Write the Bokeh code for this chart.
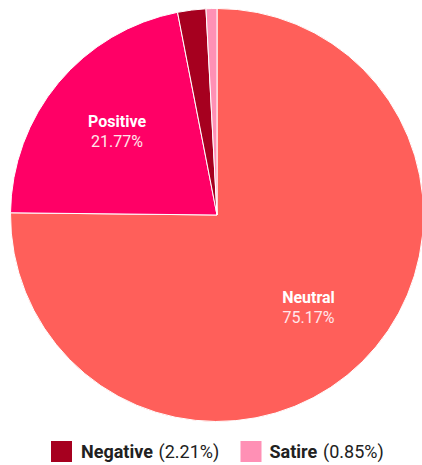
import numpy as np
from bokeh.plotting import figure
from bokeh.models import Range1d, ColumnDataSource
from bokeh.core.properties import value
from bokeh.embed import file_html
from bokeh.resources import INLINE

categories = ["Neutral", "Positive", "Negative", "Satire"]
shares = [75.17, 21.77, 2.21, 0.85]
colors = ["#FF5F5A", "#FF0066", "#A6001F", "#FF90B5"]
label_cats = ["Neutral", "Positive"]
legend_cats = ["Negative", "Satire"]

W, H = 422, 465
p = figure(width=W, height=H, output_backend="svg", toolbar_location=None,
           x_range=Range1d(0, W), y_range=Range1d(0, H),
           min_border=0, outline_line_color=None)
p.axis.visible = False
p.grid.visible = False
p.background_fill_color = "white"
p.border_fill_color = "white"

cx, cy, r = 216.5, H - 214.5, 206.5
frac = np.array(shares) / sum(shares)
cum = np.concatenate([[0], np.cumsum(frac)])
start = np.pi / 2 - 2 * np.pi * cum[:-1]
end = np.pi / 2 - 2 * np.pi * cum[1:]
src = ColumnDataSource(dict(start=start, end=end, color=colors))
p.wedge(x=cx, y=cy, radius=r, start_angle="start", end_angle="end",
        direction="clock", fill_color="color", line_color="white",
        line_width=1, source=src)

# slice labels
for cat in label_cats:
    i = categories.index(cat)
    mid = (start[i] + end[i]) / 2
    lx = cx + 0.63 * r * np.cos(mid)
    ly = cy + 0.63 * r * np.sin(mid)
    p.text(x=[lx], y=[ly + 9.8], text=[cat], text_align="center",
           text_baseline="middle", text_color="white",
           text_font=value("Roboto"), text_font_style="bold",
           text_font_size="16px")
    p.text(x=[lx], y=[ly - 9.8], text=[f"{shares[i]:.2f}%"], text_align="center",
           text_baseline="middle", text_color="#FFE6EA",
           text_font=value("Roboto"), text_font_size="16px")

# legend
sq_x = [61, 250.5]
name_x = [80.5, 269]
pct_x = [158, 322.5]
ly_leg = H - 451
for k, cat in enumerate(legend_cats):
    i = categories.index(cat)
    p.rect(x=[sq_x[k]], y=[ly_leg], width=21, height=21, fill_color=colors[i],
           line_color=None)
    p.text(x=[name_x[k]], y=[ly_leg], text=[cat], text_align="left",
           text_baseline="middle", text_color="#212121",
           text_font=value("Roboto"), text_font_style="bold",
           text_font_size="18px")
    p.text(x=[pct_x[k]], y=[ly_leg], text=[f"({shares[i]:.2f}%)"],
           text_align="left", text_baseline="middle", text_color="#212121",
           text_font=value("Roboto"), text_font_size="18px")

open("out.html", "w").write(file_html(p, INLINE))
